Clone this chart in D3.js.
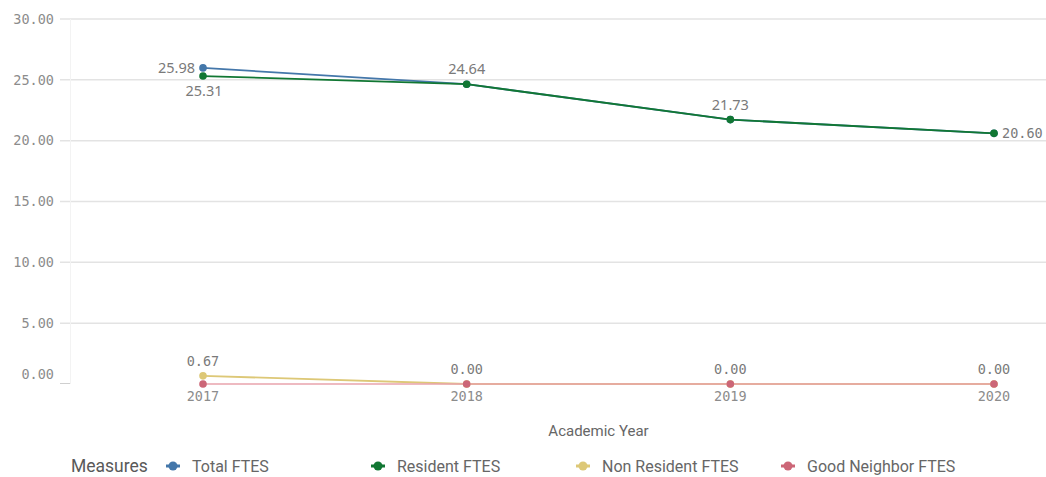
<!DOCTYPE html>
<html><head><meta charset="utf-8">
<script src="https://cdn.jsdelivr.net/npm/d3@7"></script>
<style>
html,body{margin:0;padding:0;background:#fff;}
svg{display:block;}
</style></head>
<body>
<svg id="chart" width="1046" height="477"></svg>
<script>
const years = ["2017","2018","2019","2020"];
const seriesNames = ["Total FTES","Resident FTES","Non Resident FTES","Good Neighbor FTES"];
const totalFTES = [25.98, 24.64, 21.73, 20.60];
const residentFTES = [25.31, 24.64, 21.73, 20.60];
const nonResidentFTES = [0.67, 0.00, 0.00, 0.00];
const goodNeighborFTES = [0.00, 0.00, 0.00, 0.00];
const yTicks = [0, 5, 10, 15, 20, 25, 30];
const colors = ["#4477aa", "#117733", "#ddc877", "#cc6677"];
// which data labels are shown and on which side: [seriesIndex, yearIndex, side]
const labelPlacements = [
  [0, 0, "left"], [1, 0, "below"], [1, 1, "above"], [1, 2, "above"], [1, 3, "right"],
  [2, 0, "above"], [2, 1, "above"], [2, 2, "above"], [2, 3, "above"]
];

const seriesValues = [totalFTES, residentFTES, nonResidentFTES, goodNeighborFTES];
const svg = d3.select("#chart");
const W = 1046;
const x = d3.scalePoint().domain(years).range([203, 994]);
const y = d3.scaleLinear().domain([0, 30]).range([384, 19]);
const mono = "'DejaVu Sans Mono', 'Liberation Mono', monospace";
const sans = "'Noto Sans', 'Open Sans', sans-serif";

// gridlines
svg.append("g").selectAll("line").data(yTicks.filter(d => d > 0)).join("line")
  .attr("x1", 60).attr("x2", W).attr("y1", d => y(d)).attr("y2", d => y(d))
  .attr("stroke", "#e3e3e3").attr("stroke-width", 1.5);
// faint vertical axis line
svg.append("line").attr("x1", 70.5).attr("x2", 70.5).attr("y1", y(30)).attr("y2", y(0))
  .attr("stroke", "#f3f3f3").attr("stroke-width", 1);
svg.append("line").attr("x1", 60).attr("x2", 70).attr("y1", y(0) - 0.5).attr("y2", y(0) - 0.5)
  .attr("stroke", "#cfcfcf").attr("stroke-width", 1);

// y tick labels
svg.append("g").selectAll("text").data(yTicks).join("text")
  .attr("x", 54).attr("y", d => d === 0 ? y(d) - 10 : y(d))
  .attr("dy", "0.35em").attr("text-anchor", "end")
  .attr("font-family", mono).attr("font-size", 13.5).attr("fill", "#8c8c8c")
  .text(d => d3.format(".2f")(d));

// x tick labels
svg.append("g").selectAll("text").data(years).join("text")
  .attr("x", d => x(d)).attr("y", 396).attr("dy", "0.35em").attr("text-anchor", "middle")
  .attr("font-family", mono).attr("font-size", 13.5).attr("fill", "#8c8c8c")
  .text(d => d);

// axis title
svg.append("text").attr("x", (x(years[0]) + x(years[3])) / 2).attr("y", 431).attr("dy", "0.35em")
  .attr("text-anchor", "middle").attr("font-family", "Roboto, sans-serif").attr("font-size", 15)
  .attr("fill", "#666").text("Academic Year");

// lines & points
const line = d3.line().x((d, i) => x(years[i])).y(d => y(d));
seriesValues.forEach((vals, s) => {
  const g = svg.append("g");
  g.append("path").attr("d", line(vals)).attr("fill", "none")
    .attr("stroke", s === 3 ? "#e9a3ac" : colors[s]).attr("stroke-width", s === 3 ? 1.4 : 1.8);
  g.selectAll("circle").data(vals).join("circle")
    .attr("cx", (d, i) => x(years[i])).attr("cy", d => y(d)).attr("r", 3.8)
    .attr("fill", colors[s]);
});

// data labels
const fmt = d3.format(".2f");
svg.append("g").selectAll("text").data(labelPlacements).join("text")
  .each(function([s, i, side]) {
    const v = seriesValues[s][i];
    const px = x(years[i]), py = y(v);
    const t = d3.select(this);
    const txt = fmt(v);
    const useMono = txt.includes("0");
    t.attr("font-family", useMono ? mono : sans)
     .attr("font-size", useMono ? 13.5 : 14.5)
     .attr("fill", "#7a7a7a").attr("dy", "0.35em").text(txt);
    if (side === "left") t.attr("x", px - 8).attr("y", py).attr("text-anchor", "end");
    else if (side === "right") t.attr("x", px + 8).attr("y", py).attr("text-anchor", "start");
    else if (side === "below") t.attr("x", px + 1).attr("y", py + 15).attr("text-anchor", "middle");
    else t.attr("x", px).attr("y", py - 15).attr("text-anchor", "middle");
  });

// legend
const lg = svg.append("g");
lg.append("text").attr("x", 71).attr("y", 466).attr("dy", "0.35em")
  .attr("font-family", "Roboto, sans-serif").attr("font-size", 17.5).attr("fill", "#595959").text("Measures");
const legendX = d3.scalePoint().domain(seriesNames).range([173, 788]);
seriesNames.forEach((n, s) => {
  const cx = legendX(n);
  const item = lg.append("g");
  item.append("line").attr("x1", cx - 7).attr("x2", cx + 7).attr("y1", 466).attr("y2", 466)
    .attr("stroke", colors[s]).attr("stroke-width", 3);
  item.append("circle").attr("cx", cx).attr("cy", 466).attr("r", 4.5).attr("fill", colors[s]);
  item.append("text").attr("x", cx + 19).attr("y", 466).attr("dy", "0.35em")
    .attr("font-family", "Roboto, sans-serif").attr("font-size", 16).attr("fill", "#666").text(n);
});
</script>
</body></html>
